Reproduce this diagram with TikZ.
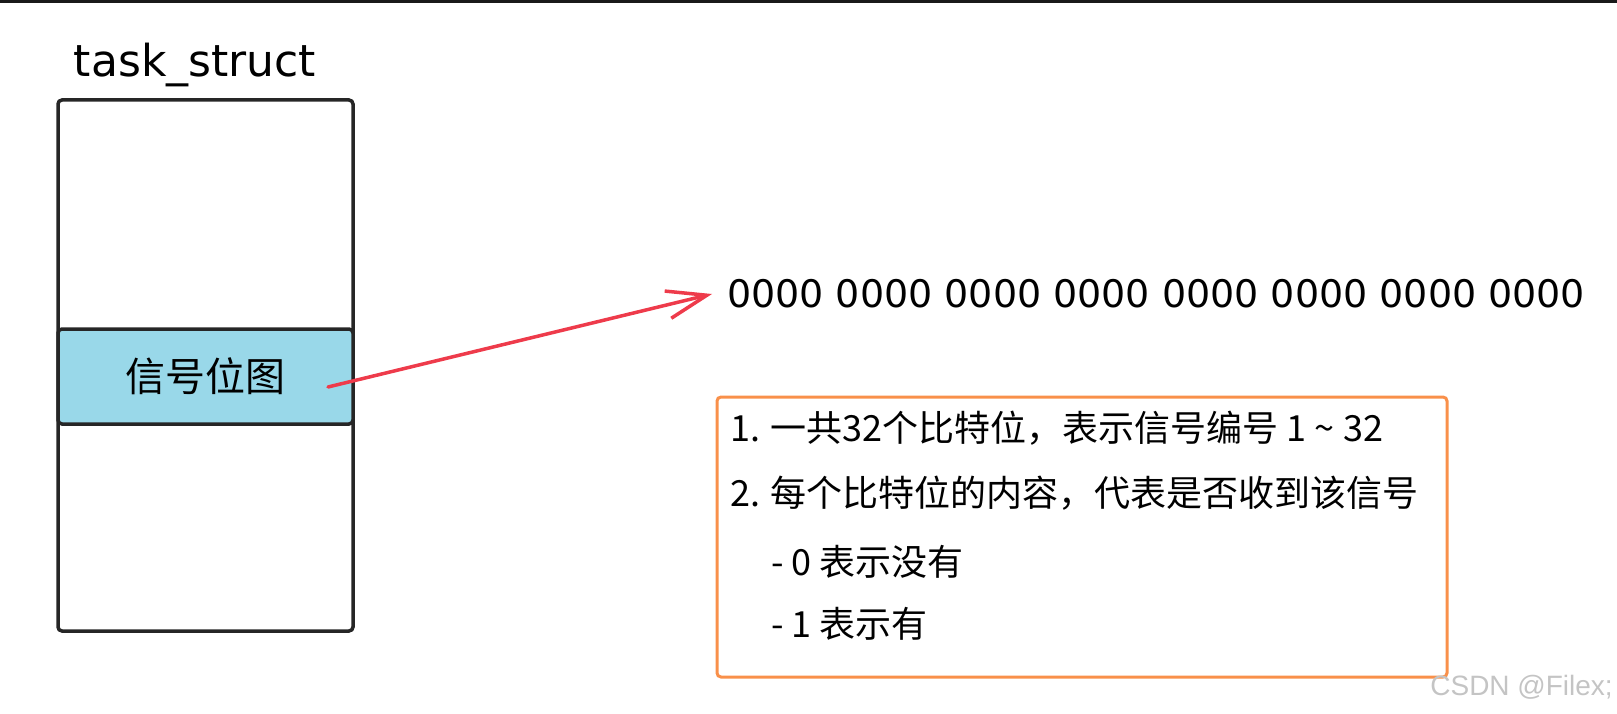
\documentclass[tikz,border=0pt]{standalone}
\usepackage{fontspec}
\newfontfamily\cjk{Noto Sans CJK SC}
\newfontfamily\comicish{DejaVu Sans}
\newfontfamily\marksans{Liberation Sans}
\usetikzlibrary{positioning}
\usetikzlibrary{arrows.meta}
\definecolor{bandblue}{HTML}{99D8E9}
\definecolor{noteorange}{HTML}{F9904A}
\definecolor{arrowred}{HTML}{EE3B4B}
\definecolor{markgray}{HTML}{C4C4C4}

\begin{document}
\begin{tikzpicture}[x=1pt,y=-1pt,
		outline/.style={draw=black!85,line width=3.5pt,rounded corners=4pt,rectangle,inner sep=0pt},
		noteline/.style={anchor=west,inner sep=0pt,font=\cjk\fontsize{36}{40}\selectfont}]
		\useasboundingbox (0,0) rectangle (1617,714);
		\fill [black!90] (0,0) rectangle (1617,3);

		\node [outline,minimum width=295pt,minimum height=531pt] (task) at (205.5,365.5) {};
		\node [outline,fill=bandblue,minimum width=295pt,minimum height=95pt,font=\cjk\fontsize{40}{44}\selectfont] (bitmap) at (205.5,376.5) {信号位图};
		\node [anchor=base,inner sep=0pt,font=\comicish\fontsize{44}{48}\selectfont] (taskname) at (195,77) {task\_struct};

		\node [anchor=west,inner sep=0pt,font=\comicish\fontsize{38}{42}\selectfont] (bits) at (727,294) {0000 0000 0000 0000 0000 0000 0000 0000};
		\coordinate (arrowstart) at (328,387);
		\draw [arrowred,line width=3.5pt,line cap=round,-{Straight Barb[length=40pt,width=28pt]}] (arrowstart) -- ([xshift=-15pt]bits.west);

		\node [outline,draw=noteorange,line width=3pt,minimum width=730pt,minimum height=280pt] (note) at (1082,537) {};
		\node [noteline] (line1) at (730,428) {1. 一共32个比特位，表示信号编号 1 \textasciitilde{} 32};
		\node [noteline] (line2) at (730,493) {2. 每个比特位的内容，代表是否收到该信号};
		\node [noteline] (line3) at (771,562) {- 0 表示没有};
		\node [noteline] (line4) at (771,624) {- 1 表示有};

		\node [anchor=east,inner sep=0pt,text=markgray,font=\marksans\fontsize{28}{32}\selectfont] (mark) at (1613,687) {CSDN @Filex;};
	\end{tikzpicture}
\end{document}
